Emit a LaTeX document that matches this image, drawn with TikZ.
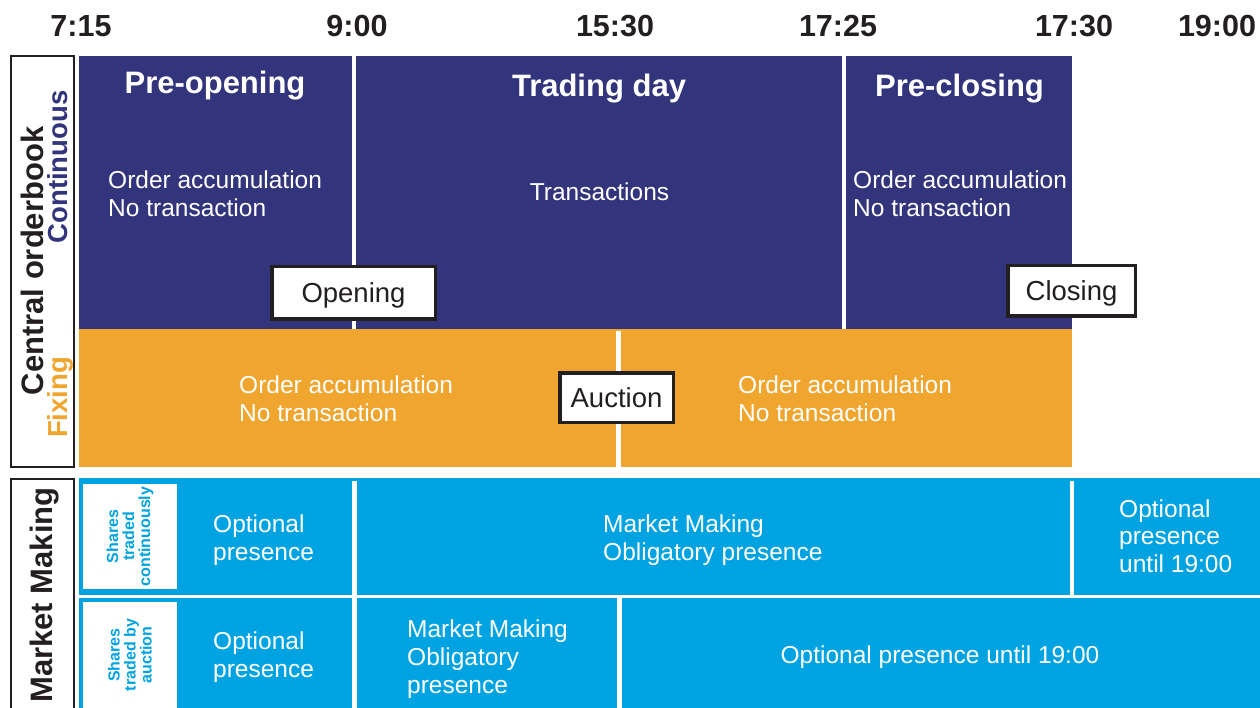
\documentclass[tikz,border=0pt]{standalone}
\usepackage{fontspec}
\setmainfont{Liberation Sans}
\definecolor{navy}{HTML}{32347C}
\definecolor{amber}{HTML}{F0A52E}
\definecolor{sky}{HTML}{00A3E1}
\definecolor{ink}{HTML}{231F20}
\newcommand\fsz[1]{\fontsize{#1}{#1}\selectfont}
\newcommand\twoline[2]{\vtop{\baselineskip=28pt\hbox{#1}\hbox{#2}}}
\newcommand\threeline[3]{\vtop{\baselineskip=28pt\hbox{#1}\hbox{#2}\hbox{#3}}}
\tikzset{
  tlab/.style={font=\fsz{30.5}\bfseries, text=ink, inner sep=0pt, anchor=base},
  head/.style={font=\fsz{31}\bfseries, text=white, inner sep=0pt, anchor=base},
  body/.style={font=\fsz{24.5}, text=white, inner sep=0pt, anchor=base west},
  evbox/.style={draw=ink, line width=3.5pt, fill=white, font=\fsz{27.5}, text=ink,
    inner sep=0pt, text height=19.8pt, text depth=0pt},
  sidebox/.style={draw=ink, line width=2pt},
  sidelab/.style={font=\fsz{31}\bfseries, text=ink, inner sep=0pt, anchor=base, rotate=90},
  sublab/.style={font=\fsz{27.5}\bfseries, inner sep=0pt, anchor=base, rotate=90},
  sharelab/.style={font=\fsz{16}\bfseries, text=sky, inner sep=0pt, rotate=90, align=center}
}
\begin{document}
\begin{tikzpicture}[x=1pt,y=-1pt]
\useasboundingbox (0,0) rectangle (1260,708);
% time labels
\node[tlab] (t1) at (81,37) {7:15};
\node[tlab] (t2) at (357,37) {9:00};
\node[tlab] (t3) at (615,37) {15:30};
\node[tlab] (t4) at (838,37) {17:25};
\node[tlab] (t5) at (1074,37) {17:30};
\node[tlab] (t6) at (1217,37) {19:00};
% side boxes
\draw[sidebox] (11,56) rectangle (74,467);
\draw[sidebox] (11,479) rectangle (74,720);
\node[sidelab] (cob) at (43,261) {Central orderbook};
\node[sublab, text=navy] (cont) at (67,167) {Continuous};
\node[sublab, text=amber] (fix) at (67,397.5) {Fixing};
\node[sidelab] (mm) at (52,595) {Market Making};
% central orderbook regions
\fill[navy] (79,56) rectangle (1072,329);
\fill[amber] (79,329) rectangle (1072,467);
\fill[white] (352,56) rectangle (356,329);
\fill[white] (842,56) rectangle (846,329);
\fill[white] (616,331) rectangle (621,467);
% market making region
\fill[sky] (79,478) rectangle (1260,708);
\fill[white] (79,594.5) rectangle (1260,597.5);
\fill[white] (352,481) rectangle (357,594.5);
\fill[white] (1070,481) rectangle (1074,594.5);
\fill[white] (352,598) rectangle (357,708);
\fill[white] (617,598) rectangle (622,708);
\fill[white] (83,484) rectangle (177,589);
\fill[white] (83,602) rectangle (177,708);
\node[sharelab] (sh1) at (130,536.5) {Shares\\traded\\continuously};
\node[sharelab] (sh2) at (130,655) {Shares\\traded by\\auction};
% headers
\node[head] (h1) at (215,94) {Pre-opening};
\node[head] (h2) at (599,97) {Trading day};
\node[head] (h3) at (959.5,97) {Pre-closing};
% body texts
\node[body] (b1) at (108,189) {\twoline{Order accumulation}{No transaction}};
\node[body, anchor=base] (b2) at (599.5,201) {Transactions};
\node[body] (b3) at (853,189) {\twoline{Order accumulation}{No transaction}};
\node[body] (b4) at (239,393) {\twoline{Order accumulation}{No transaction}};
\node[body] (b5) at (738,393) {\twoline{Order accumulation}{No transaction}};
\node[body] (m1) at (213,532) {\twoline{Optional}{presence}};
\node[body] (m2) at (603,532) {\twoline{Market Making}{Obligatory presence}};
\node[body] (m3) at (1119,517) {\vtop{\baselineskip=27.5pt\hbox{Optional}\hbox{presence}\hbox{until 19:00}}};
\node[body] (m4) at (213,649) {\twoline{Optional}{presence}};
\node[body] (m5) at (407,637) {\threeline{Market Making}{Obligatory}{presence}};
\node[body, anchor=base] (m6) at (940,663) {Optional presence until 19:00};
% event boxes
\node[evbox, minimum width=163.5pt, minimum height=52.5pt] (open) at (353.5,293) {Opening};
\node[evbox, minimum width=113.5pt, minimum height=49.5pt] (auct) at (616.5,397.5) {Auction};
\node[evbox, minimum width=127.5pt, minimum height=50.5pt] (clos) at (1071.5,291) {Closing};
\end{tikzpicture}
\end{document}
